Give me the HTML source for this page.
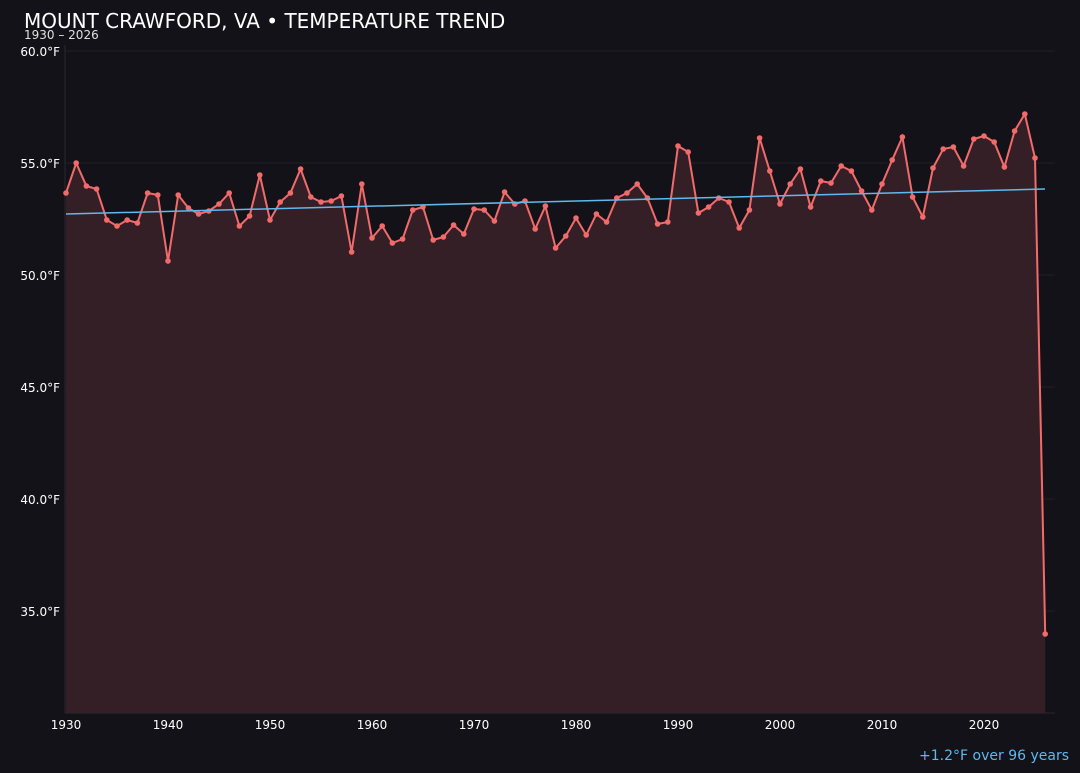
<!DOCTYPE html>
<html><head><meta charset="utf-8"><style>
html,body{margin:0;padding:0;background:#131218;}
body{width:1080px;height:768px;overflow:hidden;font-family:"Liberation Sans","DejaVu Sans",sans-serif;}
</style></head><body>
<svg width="1080" height="768" xmlns="http://www.w3.org/2000/svg" font-family="DejaVu Sans, Liberation Sans, sans-serif">
<rect width="1080" height="768" fill="#131218"/>
<text x="24" y="28" fill="#ffffff" font-size="20">MOUNT CRAWFORD, VA • TEMPERATURE TREND</text>
<text x="24" y="39" fill="#e0e0e0" font-size="12">1930 – 2026</text>
<g stroke="#222028" stroke-width="1">
<line x1="65" y1="51" x2="1055" y2="51"/><line x1="65" y1="163" x2="1055" y2="163"/><line x1="65" y1="275" x2="1055" y2="275"/><line x1="65" y1="387" x2="1055" y2="387"/><line x1="65" y1="499" x2="1055" y2="499"/><line x1="65" y1="611" x2="1055" y2="611"/>
</g>
<line x1="65" y1="45" x2="65" y2="713" stroke="#2a2830"/>
<line x1="65" y1="713" x2="1055" y2="713" stroke="#2a2830"/>
<g fill="#ffffff" font-size="12" text-anchor="end">
<text x="60" y="56">60.0°F</text><text x="60" y="168">55.0°F</text><text x="60" y="280">50.0°F</text><text x="60" y="392">45.0°F</text><text x="60" y="504">40.0°F</text><text x="60" y="616">35.0°F</text>
</g>
<g fill="#ffffff" font-size="12" text-anchor="middle">
<text x="66" y="729">1930</text><text x="168" y="729">1940</text><text x="270" y="729">1950</text><text x="372" y="729">1960</text><text x="474" y="729">1970</text><text x="576" y="729">1980</text><text x="678" y="729">1990</text><text x="780" y="729">2000</text><text x="882" y="729">2010</text><text x="984" y="729">2020</text>
</g>
<text x="1069" y="760" fill="#5fb8ee" font-size="14" text-anchor="end">+1.2°F over 96 years</text>
<g id="s"></g>
<line x1="66" y1="214" x2="1045" y2="189" stroke="#5fb8ee" stroke-width="1.5"/>
<script>
var y=[193,163,186,189,220,226,220,223,193,195,261,195,208,214,211,204,193,226,216,175,220,202,193,169,197,202,201,196,252,184,238,226,243,239,210,207,240,237,225,234,209,210,221,192,204,201,229,206,248,236,218,235,214,222,198,193,184,198,224,222,146,152,213,207,198,202,228,210,138,171,204,184,169,207,181,183,166,171,191,210,184,160,137,197,217,168,149,147,166,139,136,142,167,131,114,158,634];
var pts=y.map(function(v,i){return (66+i*10.2).toFixed(1)+","+v;});
var ns="http://www.w3.org/2000/svg",g=document.getElementById("s");
var a=document.createElementNS(ns,"polygon");a.setAttribute("points","66,713 "+pts.join(" ")+" "+(66+96*10.2)+",713");a.setAttribute("fill","#351f26");g.appendChild(a);
var l=document.createElementNS(ns,"polyline");l.setAttribute("points",pts.join(" "));l.setAttribute("fill","none");l.setAttribute("stroke","#f26b6b");l.setAttribute("stroke-width","2");g.appendChild(l);
y.forEach(function(v,i){var c=document.createElementNS(ns,"circle");c.setAttribute("cx",66+i*10.2);c.setAttribute("cy",v);c.setAttribute("r","2.8");c.setAttribute("fill","#f26b6b");g.appendChild(c);});
</script>
</svg>
</body></html>
